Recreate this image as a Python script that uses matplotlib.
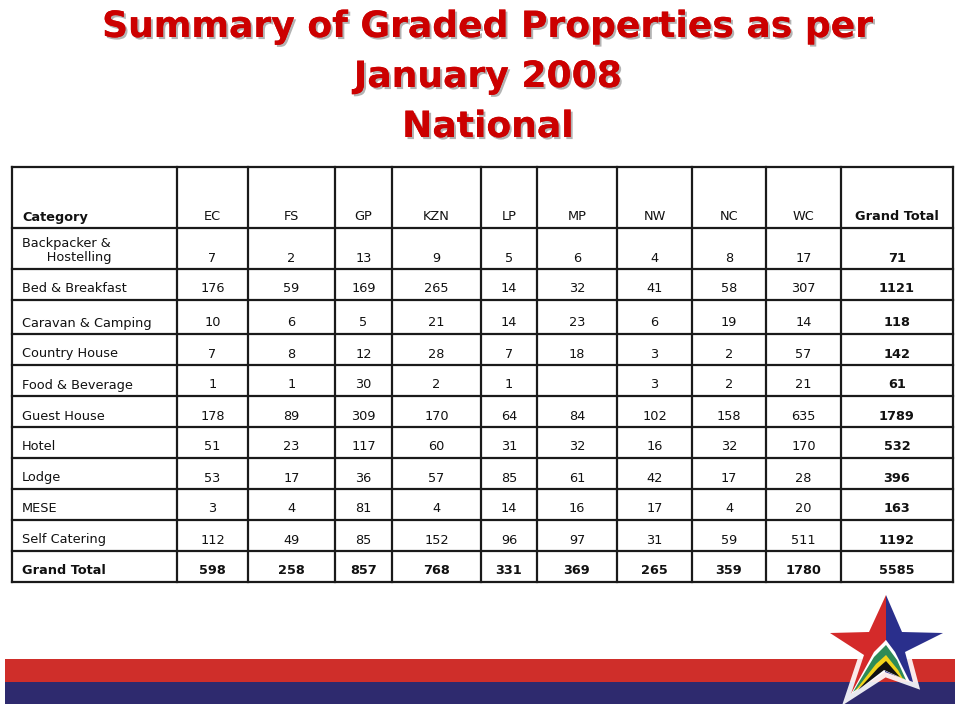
import matplotlib
matplotlib.use("Agg")
import matplotlib.pyplot as plt
from matplotlib.patches import Polygon, Rectangle
import matplotlib.patheffects as pe

# ---------------- data ----------------
title_lines = ["Summary of Graded Properties as per", "January 2008", "National"]
columns = ["EC", "FS", "GP", "KZN", "LP", "MP", "NW", "NC", "WC", "Grand Total"]
categories = ["Backpacker &\n      Hostelling", "Bed & Breakfast", "Caravan & Camping",
              "Country House", "Food & Beverage", "Guest House", "Hotel", "Lodge",
              "MESE", "Self Catering"]
backpacker = [7, 2, 13, 9, 5, 6, 4, 8, 17, 71]
bed_breakfast = [176, 59, 169, 265, 14, 32, 41, 58, 307, 1121]
caravan_camping = [10, 6, 5, 21, 14, 23, 6, 19, 14, 118]
country_house = [7, 8, 12, 28, 7, 18, 3, 2, 57, 142]
food_beverage = [1, 1, 30, 2, 1, None, 3, 2, 21, 61]
guest_house = [178, 89, 309, 170, 64, 84, 102, 158, 635, 1789]
hotel = [51, 23, 117, 60, 31, 32, 16, 32, 170, 532]
lodge = [53, 17, 36, 57, 85, 61, 42, 17, 28, 396]
mese = [3, 4, 81, 4, 14, 16, 17, 4, 20, 163]
self_catering = [112, 49, 85, 152, 96, 97, 31, 59, 511, 1192]
grand_total = [598, 258, 857, 768, 331, 369, 265, 359, 1780, 5585]
rows = [backpacker, bed_breakfast, caravan_camping, country_house, food_beverage,
        guest_house, hotel, lodge, mese, self_catering]

# ---------------- layout ----------------
col_edges = [12, 177, 248, 335, 392, 481, 537, 617, 692, 766, 841, 953]
row_edges = [167, 228, 269, 300, 334, 365, 396, 427, 458, 489, 520, 551, 582]
title_baselines = [37, 87, 137]

fig = plt.figure(figsize=(9.6, 7.06), dpi=100)
ax = fig.add_axes([0, 0, 1, 1])
ax.set_xlim(0, 960)
ax.set_ylim(706, 0)
ax.axis("off")

# title
title_color = "#cc0000"
for yb, line in zip(title_baselines, title_lines):
    ax.text(488, yb, line, ha="center", va="baseline", fontsize=26,
            fontweight="bold", family="DejaVu Sans", color=title_color,
            path_effects=[pe.withSimplePatchShadow(offset=(1.5, -1.5), shadow_rgbFace="#a0a0a0", alpha=0.8),
                          pe.Normal()])

# grid lines
lw = 1.6
lc = "#1a1a1a"
for x in col_edges:
    ax.plot([x, x], [row_edges[0], row_edges[-1]], color=lc, lw=lw, solid_capstyle="projecting")
for y in row_edges:
    ax.plot([col_edges[0], col_edges[-1]], [y, y], color=lc, lw=lw, solid_capstyle="projecting")

fs = 9.3
fam = "DejaVu Sans"
pad = 7.5

def cell_text(ci, ri, s, bold=False, left=False):
    yb = row_edges[ri + 1] - pad
    if left:
        x = col_edges[0] + 10
        ha = "left"
    else:
        x = (col_edges[ci] + col_edges[ci + 1]) / 2
        ha = "center"
    ax.text(x, yb, s, ha=ha, va="baseline", fontsize=fs, family=fam,
            fontweight="bold" if bold else "normal", color="#111111", linespacing=1.15)

# header
cell_text(0, 0, "Category", bold=True, left=True)
for j, c in enumerate(columns):
    cell_text(j + 1, 0, c, bold=(c == "Grand Total"))

# body
for i, (cat, vals) in enumerate(zip(categories, rows)):
    cell_text(0, i + 1, cat, left=True)
    for j, v in enumerate(vals):
        if v is None:
            continue
        cell_text(j + 1, i + 1, str(v), bold=(j == len(vals) - 1))

# grand total row
ri = len(rows) + 1
cell_text(0, ri, "Grand Total", bold=True, left=True)
for j, v in enumerate(grand_total):
    cell_text(j + 1, ri, str(v), bold=True)

# bottom stripes
ax.add_patch(Rectangle((5, 659), 950, 23, color="#cf2e2a", lw=0))
ax.add_patch(Rectangle((5, 682), 950, 22, color="#2e2a6e", lw=0))

# star logo
top = (886, 595); lft = (830, 633); rgt = (943, 633); bl = (851, 694); br = (913, 682)
i1 = (869, 632); i2 = (902, 632); i3 = (864, 655); i4 = (905, 652); i5 = (885, 672)
star = [top, i2, rgt, i4, br, i5, bl, i3, lft, i1]
ax.add_patch(Polygon(star, closed=True, facecolor="white", edgecolor="white", lw=7, alpha=0.9))
ax.add_patch(Polygon([top, i1, lft, i3, bl, (886, 640)], closed=True, facecolor="#d42a2a", lw=0))
ax.add_patch(Polygon([top, i2, rgt, i4, br, i5, (886, 640)], closed=True, facecolor="#2a2f8c", lw=0))
ax.add_patch(Polygon([(886, 640), (895, 652), (910, 682), (883, 670), (851, 694), (874, 652)],
                     closed=True, facecolor="white", lw=0))
ax.add_patch(Polygon([(886, 645), (897, 660), (906, 680), (884, 668), (853, 692), (874, 657)],
                     closed=True, facecolor="#2e8b57", lw=0))
ax.add_patch(Polygon([(886, 655), (898, 670), (903, 679), (884, 669), (855, 691), (876, 664)],
                     closed=True, facecolor="#f2d41a", lw=0))
ax.add_patch(Polygon([(886, 661), (900, 677), (884, 670), (858, 690), (878, 668)],
                     closed=True, facecolor="#111111", lw=0))

fig.savefig("out.png", dpi=100)
